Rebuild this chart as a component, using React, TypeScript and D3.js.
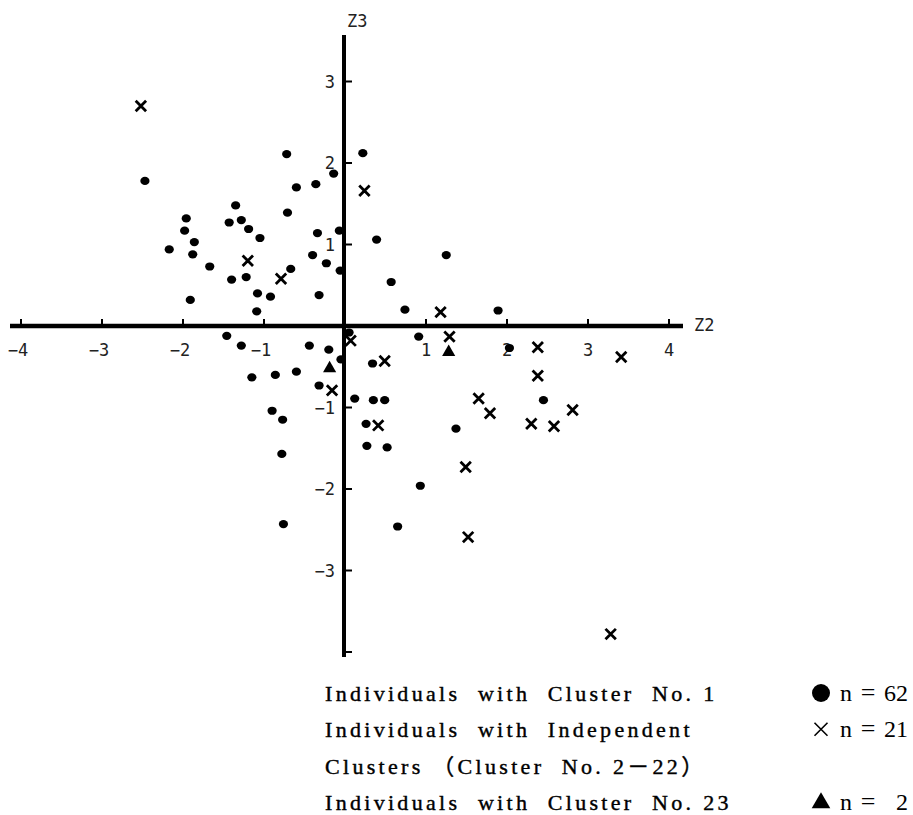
import React, { useEffect, useRef } from "react";
import * as d3 from "d3";

// [Z2, Z3] scores
const clusterOne: [number, number][] = [
  [-2.47, 1.78], [-0.72, 2.11], [-0.14, 1.87], [-0.36, 1.74], [-0.6, 1.7],
  [-1.35, 1.48], [-0.71, 1.39], [-1.96, 1.32], [-1.43, 1.27], [-1.28, 1.3],
  [-1.98, 1.17], [-1.19, 1.19], [-1.86, 1.03], [-1.05, 1.08], [-0.34, 1.14],
  [-0.07, 1.17], [-2.17, 0.94], [-1.88, 0.88], [-0.4, 0.87], [-0.23, 0.77],
  [-1.67, 0.73], [-0.06, 0.68], [-0.67, 0.7], [-1.4, 0.57], [-1.22, 0.6],
  [-0.32, 0.38], [-1.08, 0.4], [-0.92, 0.36], [-1.91, 0.32], [-1.09, 0.18],
  [0.22, 2.12], [0.39, 1.06], [1.25, 0.87], [0.57, 0.54], [0.74, 0.2], [1.89, 0.19],
  [-1.46, -0.12], [-1.28, -0.24], [-0.44, -0.24], [-0.2, -0.29], [0.05, -0.08],
  [-0.05, -0.41], [-1.15, -0.63], [-0.86, -0.6], [-0.6, -0.56], [-0.32, -0.73],
  [0.12, -0.89], [-0.9, -1.04], [-0.77, -1.15], [-0.78, -1.57], [-0.76, -2.43],
  [0.91, -0.13], [2.03, -0.27], [0.34, -0.46], [0.35, -0.91], [0.49, -0.91],
  [2.45, -0.91], [0.26, -1.2], [1.37, -1.26], [0.27, -1.47], [0.52, -1.49],
  [0.93, -1.96], [0.65, -2.46],
];

const independentClusters: [number, number][] = [
  [-2.52, 2.7], [-1.2, 0.8], [-0.79, 0.58], [0.24, 1.66], [1.18, 0.17],
  [0.07, -0.18], [-0.16, -0.79], [1.29, -0.13], [2.38, -0.26], [3.41, -0.38],
  [0.49, -0.43], [2.38, -0.61], [1.65, -0.89], [1.79, -1.07], [2.81, -1.03],
  [0.41, -1.22], [2.3, -1.2], [2.58, -1.23], [1.49, -1.73], [1.52, -2.59],
  [3.28, -3.78],
];

const clusterTwentyThree: [number, number][] = [
  [-0.19, -0.52], [1.28, -0.32],
];

const z2Ticks = [-4, -3, -2, -1, 1, 2, 3, 4];
const z3Ticks = [3, 2, 1, -1, -2, -3, -4];
const z3Labels = [3, 2, 1, -1, -2, -3];

const legendLines = [
  "Individuals  with  Cluster  No. 1",
  "Individuals  with  Independent",
  "Clusters \uFF08Cluster  No. 2\uFF0D22\uFF09",
  "Individuals  with  Cluster  No. 23",
];
const legendCounts = [
  { line: 0, n: "62", mark: "dot" },
  { line: 1, n: "21", mark: "cross" },
  { line: 3, n: "2", mark: "tri" },
];

const App = () => {
  const svgRef = useRef<SVGSVGElement>(null);

  useEffect(() => {
    const width = 913;
    const height = 815;
    const svg = d3.select(svgRef.current);
    svg.selectAll("*").remove();
    svg.attr("width", width).attr("height", height);

    const x = d3.scaleLinear().domain([-4, 4]).range([21, 669]);
    const y = d3.scaleLinear().domain([-4, 4]).range([652, 0]);

    const tickFont = "'DejaVu Sans Mono', monospace";

    // axes
    svg.append("line")
      .attr("x1", 10).attr("x2", 683)
      .attr("y1", y(0)).attr("y2", y(0))
      .attr("stroke", "#000").attr("stroke-width", 4.5);

    svg.append("line")
      .attr("x1", x(0) - 1).attr("x2", x(0) - 1)
      .attr("y1", 35).attr("y2", 657)
      .attr("stroke", "#000").attr("stroke-width", 4);

    // Z2 ticks
    svg.append("g").selectAll("line")
      .data(z2Ticks)
      .join("line")
      .attr("x1", d => x(d)).attr("x2", d => x(d))
      .attr("y1", y(0)).attr("y2", y(0) - 7)
      .attr("stroke", "#000").attr("stroke-width", 2);

    svg.append("g").selectAll("text")
      .data(z2Ticks)
      .join("text")
      .attr("x", d => x(d) + (d > 0 ? 0 : -3))
      .attr("y", 356)
      .attr("text-anchor", "middle")
      .style("font-family", tickFont)
      .style("font-size", "17px")
      .style("fill", "#222")
      .text(d => (d < 0 ? "\u2212" + Math.abs(d) : String(d)));

    // Z3 ticks
    svg.append("g").selectAll("line")
      .data(z3Ticks)
      .join("line")
      .attr("x1", x(0)).attr("x2", x(0) + 7)
      .attr("y1", d => y(d)).attr("y2", d => y(d))
      .attr("stroke", "#000").attr("stroke-width", 2);

    svg.append("g").selectAll("text")
      .data(z3Labels)
      .join("text")
      .attr("x", 335)
      .attr("y", d => y(d) + 6)
      .attr("text-anchor", "end")
      .style("font-family", tickFont)
      .style("font-size", "17px")
      .style("fill", "#222")
      .text(d => (d < 0 ? "\u2212" + Math.abs(d) : String(d)));

    svg.append("text")
      .attr("x", 347).attr("y", 27)
      .style("font-family", tickFont)
      .style("font-size", "17px")
      .style("fill", "#222")
      .text("Z3");

    svg.append("text")
      .attr("x", 694).attr("y", 331)
      .style("font-family", tickFont)
      .style("font-size", "17px")
      .style("fill", "#222")
      .text("Z2");

    // points
    svg.append("g").selectAll("ellipse")
      .data(clusterOne)
      .join("ellipse")
      .attr("cx", d => x(d[0]))
      .attr("cy", d => y(d[1]))
      .attr("rx", 4.6)
      .attr("ry", 4.1)
      .attr("fill", "#000");

    const cross = (s: number) => `M${-s},${-s}L${s},${s}M${-s},${s}L${s},${-s}`;

    svg.append("g").selectAll("path")
      .data(independentClusters)
      .join("path")
      .attr("transform", d => `translate(${x(d[0])},${y(d[1])})`)
      .attr("d", cross(5.2))
      .attr("stroke", "#000")
      .attr("stroke-width", 2.8)
      .attr("fill", "none");

    svg.append("g").selectAll("path")
      .data(clusterTwentyThree)
      .join("path")
      .attr("transform", d => `translate(${x(d[0])},${y(d[1])})`)
      .attr("d", d3.symbol(d3.symbolTriangle, 75)())
      .attr("fill", "#000");

    // legend
    const legendFont = "'Liberation Serif', 'Noto Sans CJK JP', serif";
    const lineY = (i: number) => 701 + i * 36.3;

    svg.append("g").selectAll("text")
      .data(legendLines)
      .join("text")
      .attr("x", 325)
      .attr("y", (d, i) => lineY(i))
      .style("font-family", legendFont)
      .style("font-size", "22px")
      .style("letter-spacing", "3.3px")
      .style("white-space", "pre")
      .style("fill", "#000")
      .style("stroke", "#000")
      .style("stroke-width", "0.4px")
      .text(d => d);

    legendCounts.forEach(c => {
      const by = lineY(c.line);
      const cy = by - 8;
      if (c.mark === "dot") {
        svg.append("circle").attr("cx", 821).attr("cy", cy).attr("r", 9).attr("fill", "#000");
      } else if (c.mark === "cross") {
        svg.append("path")
          .attr("transform", `translate(821,${cy})`)
          .attr("d", cross(6.5))
          .attr("stroke", "#000").attr("stroke-width", 1.6);
      } else {
        svg.append("path")
          .attr("transform", `translate(821,${cy + 1})`)
          .attr("d", d3.symbol(d3.symbolTriangle, 150)())
          .attr("fill", "#000");
      }
      svg.append("text")
        .attr("x", 840)
        .attr("y", by)
        .style("font-family", legendFont)
        .style("font-size", "24px")
        .style("fill", "#000")
        .text("n");
      svg.append("text")
        .attr("x", 868)
        .attr("y", by)
        .attr("text-anchor", "middle")
        .style("font-family", legendFont)
        .style("font-size", "26px")
        .style("fill", "#000")
        .text("=");
      svg.append("text")
        .attr("x", 908)
        .attr("y", by)
        .attr("text-anchor", "end")
        .style("font-family", legendFont)
        .style("font-size", "24px")
        .style("fill", "#000")
        .text(c.n);
    });
  }, []);

  return (
    <div style={{ position: "absolute", left: 0, top: 0, background: "#fff" }}>
      <svg ref={svgRef} style={{ display: "block" }}></svg>
    </div>
  );
};

export default App;
